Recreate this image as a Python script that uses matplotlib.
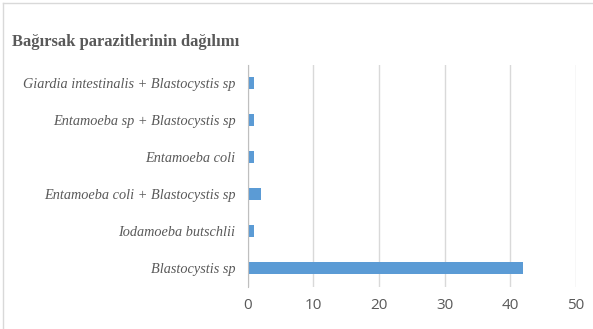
import matplotlib.pyplot as plt
from matplotlib.lines import Line2D

categories = [
    "Blastocystis sp",
    "Iodamoeba butschlii",
    "Entamoeba coli + Blastocystis sp",
    "Entamoeba coli",
    "Entamoeba sp + Blastocystis sp",
    "Giardia intestinalis + Blastocystis sp",
]
counts = [42, 1, 2, 1, 1, 1]
x_ticks = [0, 10, 20, 30, 40, 50]

text_color = "#595959"
bar_color = "#5B9BD5"

fig = plt.figure(figsize=(5.93, 3.29), dpi=100)
ax = fig.add_axes([0.418, 0.128, 0.553, 0.675])

y = range(len(categories))
ax.barh(y, counts, height=0.33, color=bar_color, zorder=3)

ax.set_xlim(0, 50)
ax.set_ylim(-0.5, len(categories) - 0.5)
ax.set_xticks(x_ticks)
ax.set_yticks(list(y))
ax.set_yticklabels(categories, family="Liberation Serif", style="italic",
                   fontsize=10.3, color=text_color)
ax.tick_params(axis="x", colors=text_color, labelsize=11, length=0, pad=8)
ax.tick_params(axis="y", length=0, pad=9)
for lab in ax.get_xticklabels():
    lab.set_family("Open Sans")

ax.grid(axis="x", color="#D9D9D9", linewidth=1, zorder=0)
for s in ["top", "right", "bottom"]:
    ax.spines[s].set_visible(False)
ax.spines["left"].set_color("#BFBFBF")
ax.spines["left"].set_zorder(4)

fig.text(0.02, 0.872, "Bağırsak parazitlerinin dağılımı", family="Liberation Serif",
         weight="bold", fontsize=12, color=text_color, va="center")

# light frame around the chart area
fig.add_artist(Line2D([0.005, 0.005], [0, 0.99], transform=fig.transFigure,
                      color="#D9D9D9", linewidth=1))
fig.add_artist(Line2D([0.005, 1], [0.99, 0.99], transform=fig.transFigure,
                      color="#D9D9D9", linewidth=1))

fig.savefig("out.png", dpi=100)
